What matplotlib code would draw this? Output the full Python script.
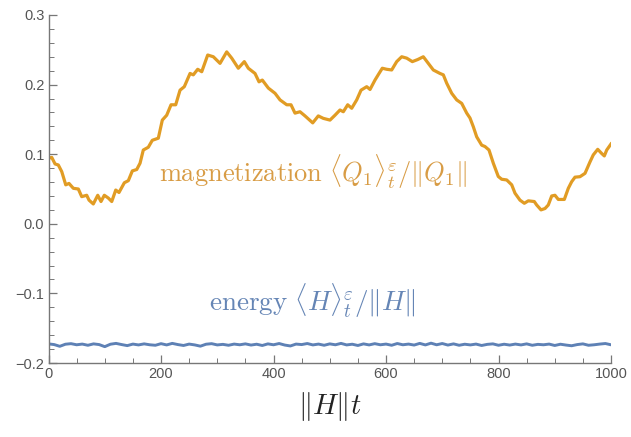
import matplotlib
matplotlib.use('Agg')
import matplotlib.pyplot as plt
from matplotlib.ticker import MultipleLocator

plt.rcParams['mathtext.fontset'] = 'cm'
plt.rcParams['font.family'] = ['Liberation Sans', 'DejaVu Sans']

# magnetization <Q1>/||Q1||
t_mag = [0, 5.7, 11.6, 17.4, 23.5, 30.6, 36.4, 44.1, 53, 59, 67.9, 72, 79.6, 87.5, 93.3,
         99.2, 106.3, 112.4, 119.5, 125.3, 134.8, 141.9, 149, 156.8, 162.7, 168.5, 177.4,
         184.5, 195.2, 202.3, 210.1, 217.8, 226.1, 233.8, 241.4, 251.6, 257.4, 265.2, 272.4,
         283, 293, 304.9, 316.8, 325.7, 337.4, 348.1, 355.2, 367.1, 374.2, 380.1, 390.8,
         402.7, 411.6, 423.5, 431.1, 438.2, 447.1, 456, 469.7, 479.6, 488.5, 500.4, 509.3,
         518.2, 524.1, 531.9, 539, 547.9, 555.6, 565.7, 571.6, 580.4, 587.6, 593.4, 601.2,
         610.1, 619, 627.9, 636.8, 646.8, 656.4, 666.3, 675.2, 684.1, 696, 701.9, 707.9,
         716.8, 725.7, 734.6, 743.5, 749.3, 755.2, 761.2, 770.1, 776, 783.1, 790.8, 799.6,
         805.7, 814.6, 823.5, 829.3, 838.2, 845.9, 853, 863.6, 867.9, 875.6, 882.7, 888.5,
         894.6, 900.4, 906.3, 917, 924.1, 930.1, 936, 944.9, 953.8, 962.7, 968.5, 976.4,
         983.5, 988.1, 992.4, 1000]
mag = [0.094, 0.0955, 0.086, 0.0845, 0.075, 0.056, 0.058, 0.051, 0.050, 0.039, 0.041, 0.034,
       0.0285, 0.041, 0.032, 0.041, 0.037, 0.032, 0.0485, 0.045, 0.059, 0.062, 0.076, 0.078,
       0.087, 0.106, 0.110, 0.120, 0.123, 0.149, 0.156, 0.171, 0.171, 0.192, 0.197, 0.216,
       0.214, 0.222, 0.2185, 0.2425, 0.240, 0.2305, 0.247, 0.238, 0.2235, 0.233, 0.2235,
       0.216, 0.204, 0.2065, 0.195, 0.1875, 0.178, 0.171, 0.171, 0.159, 0.161, 0.155, 0.145,
       0.155, 0.1515, 0.149, 0.156, 0.1635, 0.161, 0.171, 0.166, 0.178, 0.192, 0.197, 0.193,
       0.2065, 0.216, 0.2235, 0.222, 0.221, 0.233, 0.240, 0.238, 0.233, 0.236, 0.240, 0.2305,
       0.221, 0.216, 0.214, 0.202, 0.1875, 0.178, 0.173, 0.159, 0.152, 0.1395, 0.125, 0.113,
       0.111, 0.106, 0.087, 0.068, 0.064, 0.063, 0.056, 0.044, 0.034, 0.0295, 0.033, 0.032,
       0.027, 0.020, 0.022, 0.027, 0.040, 0.041, 0.035, 0.035, 0.051, 0.0605, 0.067, 0.0677,
       0.0725, 0.089, 0.099, 0.107, 0.101, 0.0975, 0.106, 0.1147]

# energy <H>/||H||, every 10 time units
t_en = list(range(0, 1001, 10))
energy = [-0.1725, -0.1735, -0.1760, -0.1730, -0.1722, -0.1738, -0.1728, -0.1745, -0.1725, -0.1735,
          -0.1765, -0.1730, -0.1718, -0.1735, -0.1750, -0.1728, -0.1740, -0.1725, -0.1738, -0.1745,
          -0.1722, -0.1740, -0.1718, -0.1735, -0.1748, -0.1728, -0.1740, -0.1758, -0.1730, -0.1722,
          -0.1740, -0.1732, -0.1745, -0.1728, -0.1738, -0.1725, -0.1742, -0.1730, -0.1748, -0.1725,
          -0.1738, -0.1720, -0.1742, -0.1755, -0.1728, -0.1735, -0.1720, -0.1740, -0.1728, -0.1745,
          -0.1725, -0.1738, -0.1718, -0.1740, -0.1730, -0.1748, -0.1725, -0.1740, -0.1722, -0.1738,
          -0.1728, -0.1745, -0.1720, -0.1738, -0.1728, -0.1742, -0.1718, -0.1740, -0.1715, -0.1738,
          -0.1720, -0.1742, -0.1725, -0.1745, -0.1730, -0.1740, -0.1728, -0.1748, -0.1732, -0.1725,
          -0.1745, -0.1730, -0.1742, -0.1728, -0.1740, -0.1725, -0.1745, -0.1732, -0.1738, -0.1728,
          -0.1748, -0.1730, -0.1742, -0.1752, -0.1735, -0.1725, -0.1745, -0.1738, -0.1728, -0.1720,
          -0.1738]

orange = '#E19C24'
blue = '#5E81B5'
gray = '#777777'

fig = plt.figure(figsize=(6.31, 4.37), dpi=100)
ax = fig.add_axes([0.0769, 0.1693, 0.8914, 0.7964])

ax.plot(t_mag, mag, color=orange, lw=2.3, solid_joinstyle='round')
ax.plot(t_en, energy, color=blue, lw=2.1, solid_joinstyle='round')

ax.set_xlim(0, 1000)
ax.set_ylim(-0.2, 0.3)
for s in ['top', 'right']:
    ax.spines[s].set_visible(False)
for s in ['left', 'bottom']:
    ax.spines[s].set_color(gray)
    ax.spines[s].set_linewidth(1.0)

ax.xaxis.set_major_locator(MultipleLocator(200))
ax.xaxis.set_minor_locator(MultipleLocator(50))
ax.yaxis.set_major_locator(MultipleLocator(0.1))
ax.yaxis.set_minor_locator(MultipleLocator(0.02))
ax.tick_params(which='major', direction='in', length=5.5, width=0.9, color=gray,
               labelcolor='#555555', labelsize=10.5, pad=3)
ax.tick_params(which='minor', direction='in', length=3.5, width=0.7, color=gray)
ax.set_yticks([-0.2, -0.1, 0.0, 0.1, 0.2, 0.3])
ax.set_yticklabels(['\u22120.2', '\u22120.1', '0.0', '0.1', '0.2', '0.3'])

ax.set_xlabel(r'$\Vert H\Vert t$', fontsize=20.5, color='#222222', labelpad=6)

ax.text(470, 0.0744, r'$\mathrm{magnetization}\ \langle Q_1\rangle_t^{\varepsilon}/\Vert Q_1\Vert$',
        color='#D89C45', fontsize=19, ha='center', va='center')
ax.text(470, -0.111, r'$\mathrm{energy}\ \langle H\rangle_t^{\varepsilon}/\Vert H\Vert$',
        color='#6585B5', fontsize=19.5, ha='center', va='center')

fig.savefig('out.png', dpi=100)
